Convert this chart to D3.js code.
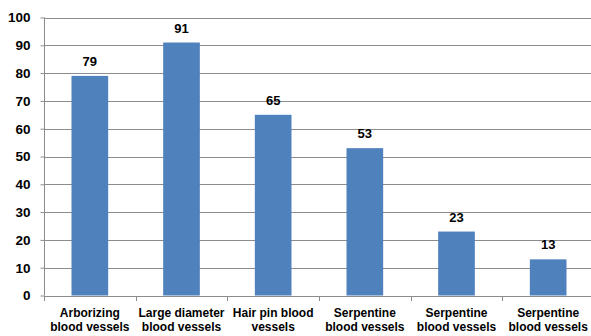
<!DOCTYPE html>
<html>
<head>
<meta charset="utf-8">
<script src="https://cdn.jsdelivr.net/npm/d3@7"></script>
<style>
  html, body { margin: 0; padding: 0; background: #fff; }
  svg text { font-family: "Liberation Sans", Arial, sans-serif; font-weight: bold; fill: #000; }
</style>
</head>
<body>
<svg id="chart" width="591" height="336"></svg>
<script>
// Vessel pattern categories (two-line labels) and their counts
const categories = [
  ["Arborizing", "blood vessels"],
  ["Large diameter", "blood vessels"],
  ["Hair pin blood", "vessels"],
  ["Serpentine", "blood vessels"],
  ["Serpentine", "blood vessels"],
  ["Serpentine", "blood vessels"]
];
const values = [79, 91, 65, 53, 23, 13];
const yTicks = [0, 10, 20, 30, 40, 50, 60, 70, 80, 90, 100];

const svg = d3.select("#chart");
const plotLeft = 44, plotRight = 594, plotTop = 17.5, plotBottom = 295.5;
const axisColor = "#8c8c8c";

const x = d3.scaleBand()
  .domain(d3.range(categories.length))
  .range([plotLeft, plotRight])
  .paddingInner(0.6)
  .paddingOuter(0.3);

const y = d3.scaleLinear().domain([0, 100]).range([plotBottom, plotTop]);

// Horizontal gridlines
svg.append("g")
  .selectAll("line")
  .data(yTicks.filter(d => d > 0))
  .join("line")
  .attr("x1", plotLeft).attr("x2", 591)
  .attr("y1", d => Math.round(y(d)) + 0.5)
  .attr("y2", d => Math.round(y(d)) + 0.5)
  .attr("stroke", axisColor)
  .attr("stroke-width", 1);

// Bars
svg.append("g")
  .selectAll("rect")
  .data(values)
  .join("rect")
  .attr("x", (d, i) => x(i))
  .attr("width", x.bandwidth())
  .attr("y", d => y(d))
  .attr("height", d => y(0) - y(d))
  .attr("fill", "#4f81bd");

// Value labels above bars
svg.append("g")
  .selectAll("text")
  .data(values)
  .join("text")
  .attr("x", (d, i) => x(i) + x.bandwidth() / 2)
  .attr("y", d => y(d) - 10)
  .attr("text-anchor", "middle")
  .attr("font-size", 13)
  .text(d => d);

// Y axis
const yAxis = d3.axisLeft(y).tickValues(yTicks).tickSize(4).tickPadding(10);
const gy = svg.append("g")
  .attr("transform", `translate(${plotLeft + 0.5},0)`)
  .call(yAxis);
gy.select(".domain").attr("stroke", axisColor).attr("d", `M0,${plotTop}V${plotBottom}`);
gy.selectAll(".tick line").attr("stroke", axisColor);
gy.selectAll(".tick text")
  .attr("font-size", 13.5)
  .attr("font-family", "Liberation Sans, Arial, sans-serif")
  .attr("font-weight", "bold")
  .attr("fill", "#000");

// X axis baseline with tick marks at category boundaries
const step = x.step();
const boundaries = d3.range(categories.length + 1).map(i => plotLeft + i * step);
svg.append("line")
  .attr("x1", plotLeft).attr("x2", 591)
  .attr("y1", Math.round(plotBottom) + 0.5).attr("y2", Math.round(plotBottom) + 0.5)
  .attr("stroke", axisColor);
svg.append("g")
  .selectAll("line")
  .data(boundaries)
  .join("line")
  .attr("x1", d => Math.round(d) + 0.5).attr("x2", d => Math.round(d) + 0.5)
  .attr("y1", Math.round(plotBottom)).attr("y2", Math.round(plotBottom) + 5)
  .attr("stroke", axisColor);

// Category labels (two lines)
const cat = svg.append("g")
  .selectAll("text")
  .data(categories)
  .join("text")
  .attr("text-anchor", "middle")
  .attr("font-size", 12);
cat.each(function(lines, i) {
  const t = d3.select(this);
  lines.forEach((ln, j) => {
    t.append("tspan")
      .attr("x", x(i) + x.bandwidth() / 2)
      .attr("y", 316.7 + j * 14.5)
      .text(ln);
  });
});
</script>
</body>
</html>
